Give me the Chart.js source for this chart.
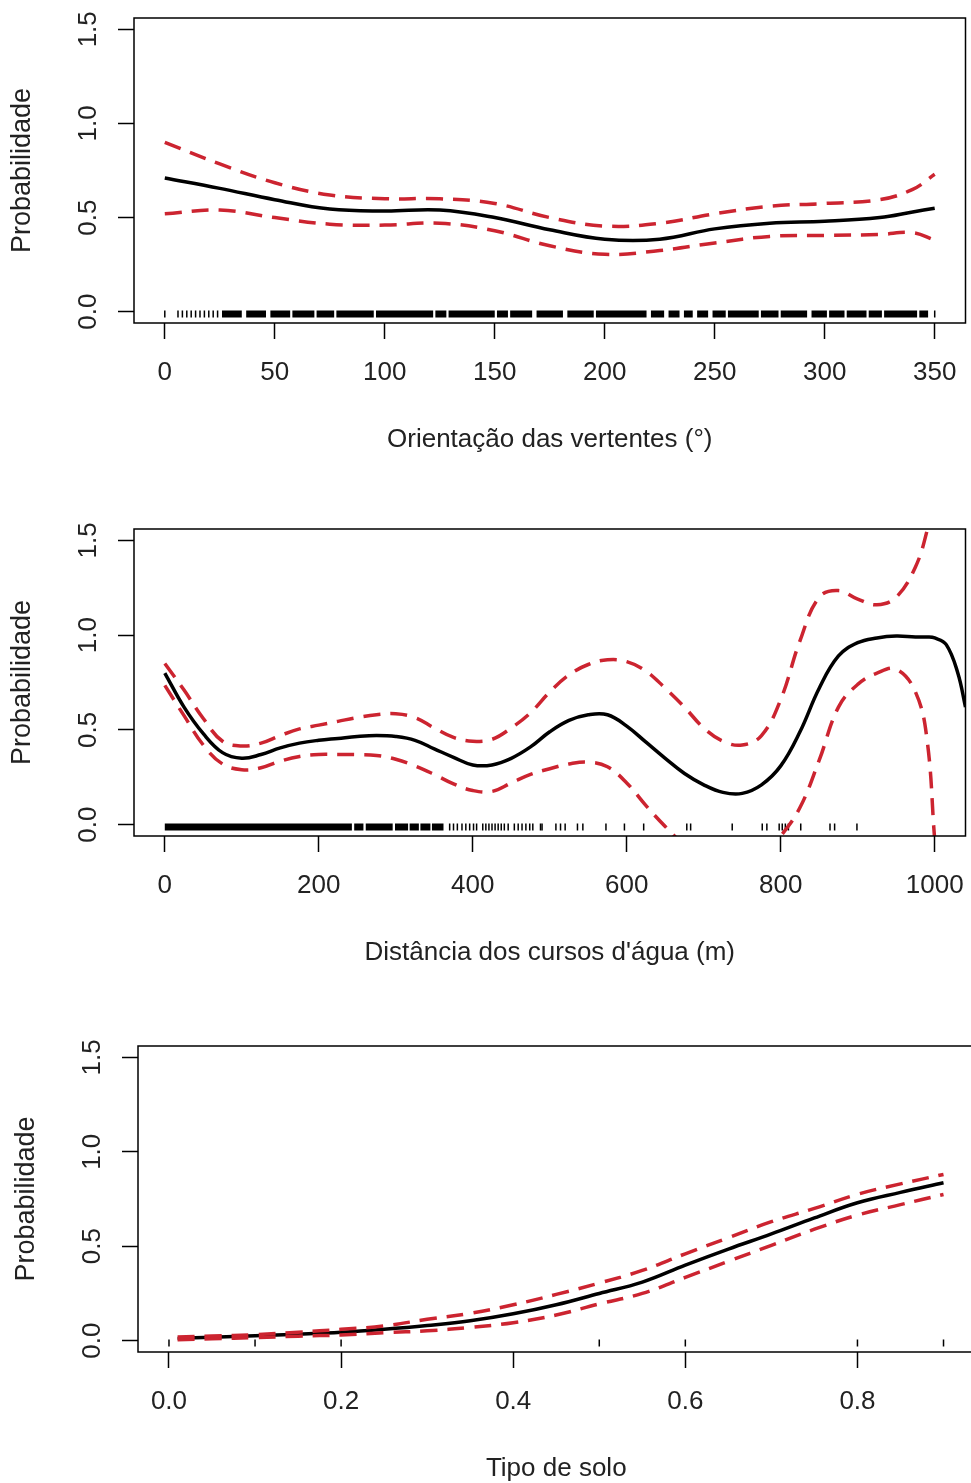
<!DOCTYPE html>
<html>
<head>
<meta charset="utf-8">
<script src="https://cdn.jsdelivr.net/npm/chart.js@4.4.1/dist/chart.umd.min.js"></script>
<style>
  html, body { margin: 0; padding: 0; background: #fff; overflow: hidden; width: 971px; height: 1483px; }
  canvas { position: absolute; left: 0; }
</style>
</head>
<body>
<canvas id="c1"></canvas>
<canvas id="c2"></canvas>
<canvas id="c3"></canvas>
<script>
// ---- painel 1: orientação das vertentes ----
const aspX = [0, 25, 50, 75, 100, 125, 150, 175, 200, 225, 250, 275, 300, 325, 340, 350];
const aspFit = [0.71, 0.655, 0.595, 0.545, 0.535, 0.54, 0.50, 0.435, 0.385, 0.385, 0.44, 0.47, 0.48, 0.50, 0.53, 0.55];
const aspUpper = [0.90, 0.785, 0.685, 0.62, 0.60, 0.60, 0.575, 0.50, 0.455, 0.47, 0.52, 0.56, 0.575, 0.595, 0.65, 0.73];
const aspLower = [0.52, 0.54, 0.50, 0.465, 0.46, 0.47, 0.43, 0.35, 0.305, 0.325, 0.365, 0.40, 0.405, 0.41, 0.42, 0.38];
const aspRugTicks = [0, 6, 8, 10, 12, 14, 16, 18, 20, 22, 24, 350];
const aspRugSpans = [[26, 35], [37, 46], [48, 57], [58, 68], [69, 77], [78, 95], [96, 122], [123, 128], [129, 150],
  [151, 156], [157, 167], [169, 181], [183, 195], [196, 219], [221, 227], [229, 234], [236, 240], [242, 247],
  [249, 255], [256, 270], [271, 279], [280, 292], [294, 301], [302, 309], [310, 319], [320, 326], [327, 342], [343, 347]];
const aspTicks = [0, 50, 100, 150, 200, 250, 300, 350];

// ---- painel 2: distância dos cursos d'água ----
const distX = [0, 25, 50, 75, 100, 125, 150, 175, 200, 225, 250, 275, 300, 325, 350, 375, 400, 425, 450, 475,
  500, 525, 550, 575, 600, 625, 650, 675, 700, 725, 750, 775, 800, 825, 850, 875, 900, 925, 950, 975,
  990, 1000, 1015, 1030, 1040];
const distFit = [0.80, 0.62, 0.48, 0.38, 0.35, 0.37, 0.405, 0.43, 0.445, 0.455, 0.465, 0.47, 0.465, 0.445, 0.40, 0.355,
  0.315, 0.315, 0.35, 0.41, 0.49, 0.55, 0.58, 0.58, 0.52, 0.435, 0.35, 0.27, 0.21, 0.17, 0.165, 0.21, 0.31, 0.49,
  0.72, 0.89, 0.96, 0.985, 0.995, 0.99, 0.99, 0.985, 0.95, 0.80, 0.62];
const distUpper = [0.85, 0.71, 0.56, 0.44, 0.415, 0.43, 0.47, 0.505, 0.525, 0.545, 0.565, 0.58, 0.585, 0.565, 0.51, 0.46,
  0.44, 0.45, 0.51, 0.59, 0.70, 0.79, 0.845, 0.87, 0.86, 0.81, 0.72, 0.62, 0.51, 0.44, 0.42, 0.47, 0.66, 0.97,
  1.20, 1.235, 1.19, 1.16, 1.20, 1.36, 1.55, 1.75, 2.3, 3.0, 3.5];
const distLower = [0.735, 0.575, 0.42, 0.32, 0.29, 0.30, 0.335, 0.36, 0.37, 0.37, 0.37, 0.365, 0.345, 0.31, 0.265, 0.215,
  0.18, 0.175, 0.22, 0.265, 0.295, 0.32, 0.33, 0.305, 0.22, 0.10, -0.01, -0.11, -0.19, -0.23, -0.24, -0.17, -0.06, 0.09,
  0.34, 0.62, 0.74, 0.80, 0.82, 0.70, 0.45, -0.08, -0.8, -1.5, -2.0];
const distRugTicks = [370, 375, 380, 386, 391, 396, 401, 405, 413, 417, 421, 425, 429, 433, 437, 441, 446, 454, 459, 464,
  469, 474, 478, 488, 490, 508, 514, 520, 536, 543, 573, 597, 622, 678, 683, 737, 776, 782, 798, 802, 806, 810, 826,
  864, 870, 899];
const distRugSpans = [[0, 243], [246, 258], [261, 296], [299, 316], [318, 330], [332, 345], [347, 362]];
const distTicks = [0, 200, 400, 600, 800, 1000];

// ---- painel 3: tipo de solo ----
const soloX = [0.01, 0.05, 0.10, 0.15, 0.20, 0.25, 0.30, 0.35, 0.40, 0.45, 0.50, 0.55, 0.60, 0.65, 0.70, 0.75, 0.80, 0.85, 0.90];
const soloFit = [0.012, 0.018, 0.026, 0.034, 0.044, 0.060, 0.080, 0.105, 0.142, 0.19, 0.25, 0.31, 0.40, 0.485, 0.565, 0.65, 0.73, 0.785, 0.836];
const soloUpper = [0.02, 0.025, 0.032, 0.045, 0.06, 0.078, 0.113, 0.145, 0.19, 0.245, 0.305, 0.372, 0.46, 0.545, 0.63, 0.70, 0.775, 0.83, 0.88];
const soloLower = [0.005, 0.01, 0.016, 0.024, 0.03, 0.042, 0.052, 0.07, 0.095, 0.136, 0.195, 0.25, 0.335, 0.42, 0.505, 0.59, 0.665, 0.72, 0.774];
const soloRugTicks = [0, 0.1, 0.2, 0.5, 0.6, 0.8, 0.9];
const soloRugSpans = [];
const soloTicks = [0, 0.2, 0.4, 0.6, 0.8];

const yTicks = [0, 0.5, 1.0, 1.5];

const FONT = "'Liberation Sans', Arial, sans-serif";
const TXT = '#222';
const RED = '#cc2430';
const RUG_Y = -0.012;

const framePlugin = {
  id: 'frame',
  afterDatasetsDraw(chart) {
    const { ctx, chartArea: a } = chart;
    ctx.save();
    ctx.strokeStyle = '#000';
    ctx.lineWidth = 1.5;
    ctx.strokeRect(a.left, a.top, a.right - a.left, a.bottom - a.top);
    ctx.restore();
  }
};

function pts(xs, ys) {
  return xs.map((x, i) => ({ x: x, y: ys[i] }));
}

function spanPts(spans) {
  const out = [];
  spans.forEach(s => {
    out.push({ x: s[0], y: RUG_Y }, { x: s[1], y: RUG_Y }, { x: s[1], y: null });
  });
  return out;
}

function makePanel(p) {
  const canvas = document.getElementById(p.id);
  canvas.width = p.w;
  canvas.height = p.h;
  canvas.style.top = p.top + 'px';
  canvas.style.width = p.w + 'px';
  canvas.style.height = p.h + 'px';

  const curve = (data, color, dash) => ({
    data: data, borderColor: color, borderWidth: 3.5, borderDash: dash,
    pointRadius: 0, tension: 0.4, fill: false
  });
  const tickGrid = { display: true, drawOnChartArea: false, drawTicks: true, tickLength: 16, tickWidth: 1.5, tickColor: '#000' };

  new Chart(canvas, {
    type: 'line',
    data: {
      datasets: [
        curve(pts(p.x, p.upper), RED, [17, 10]),
        curve(pts(p.x, p.lower), RED, [17, 10]),
        curve(pts(p.x, p.fit), '#000', []),
        {
          data: p.rugTicks.map(x => ({ x: x, y: RUG_Y })), showLine: false,
          pointStyle: 'line', pointRotation: 90, pointRadius: 3.5, pointBorderWidth: 1.5,
          pointBorderColor: '#000', pointBackgroundColor: '#000'
        },
        {
          data: spanPts(p.rugSpans), borderColor: '#000', borderWidth: 7, pointRadius: 0,
          spanGaps: false, borderCapStyle: 'butt'
        }
      ]
    },
    options: {
      responsive: false,
      animation: false,
      devicePixelRatio: 1,
      events: [],
      layout: { padding: { top: p.padTop, right: p.padRight, bottom: 0, left: 0 } },
      plugins: { legend: { display: false }, tooltip: { enabled: false } },
      scales: {
        x: {
          type: 'linear', min: p.xmin, max: p.xmax,
          afterBuildTicks: s => { s.ticks = p.xTicks.map(v => ({ value: v })); },
          afterFit: s => { s.height = 140; s.paddingLeft = 0; s.paddingRight = 0; },
          ticks: {
            autoSkip: false, minRotation: 0, maxRotation: 0, padding: 18, color: TXT,
            font: { family: FONT, size: 26 }, callback: v => p.xFmt(v)
          },
          grid: tickGrid,
          border: { display: false },
          title: { display: true, text: p.xTitle, color: TXT, font: { family: FONT, size: 26 }, padding: { top: 0, bottom: 8 } }
        },
        y: {
          type: 'linear', min: -0.06, max: 1.56,
          afterBuildTicks: s => { s.ticks = yTicks.map(v => ({ value: v })); },
          afterFit: s => { s.width = p.boxLeft; s.paddingTop = 0; s.paddingBottom = 0; },
          ticks: {
            autoSkip: false, minRotation: 90, maxRotation: 90, crossAlign: 'center', padding: 11, color: TXT,
            font: { family: FONT, size: 26 }, callback: v => v.toFixed(1)
          },
          grid: tickGrid,
          border: { display: false },
          title: { display: true, text: 'Probabilidade', color: TXT, font: { family: FONT, size: 27 }, padding: { top: p.yTitlePad, bottom: 0 } }
        }
      }
    },
    plugins: [framePlugin]
  });
}

makePanel({
  id: 'c1', top: 0, w: 971, h: 463, padTop: 18, padRight: 3, boxLeft: 134, yTitlePad: 6,
  xmin: -14, xmax: 364, xTicks: aspTicks, xFmt: v => String(v),
  xTitle: 'Orientação das vertentes (°)',
  x: aspX, fit: aspFit, upper: aspUpper, lower: aspLower, rugTicks: aspRugTicks, rugSpans: aspRugSpans
});

makePanel({
  id: 'c2', top: 500, w: 971, h: 476, padTop: 29, padRight: 2, boxLeft: 134, yTitlePad: 6,
  xmin: -40, xmax: 1040, xTicks: distTicks, xFmt: v => String(v),
  xTitle: "Distância dos cursos d'água (m)",
  x: distX, fit: distFit, upper: distUpper, lower: distLower, rugTicks: distRugTicks, rugSpans: distRugSpans
});

makePanel({
  id: 'c3', top: 1010, w: 980, h: 482, padTop: 36, padRight: 5, boxLeft: 138, yTitlePad: 10,
  xmin: -0.036, xmax: 0.936, xTicks: soloTicks, xFmt: v => v.toFixed(1),
  xTitle: 'Tipo de solo',
  x: soloX, fit: soloFit, upper: soloUpper, lower: soloLower, rugTicks: soloRugTicks, rugSpans: soloRugSpans
});
</script>
</body>
</html>
